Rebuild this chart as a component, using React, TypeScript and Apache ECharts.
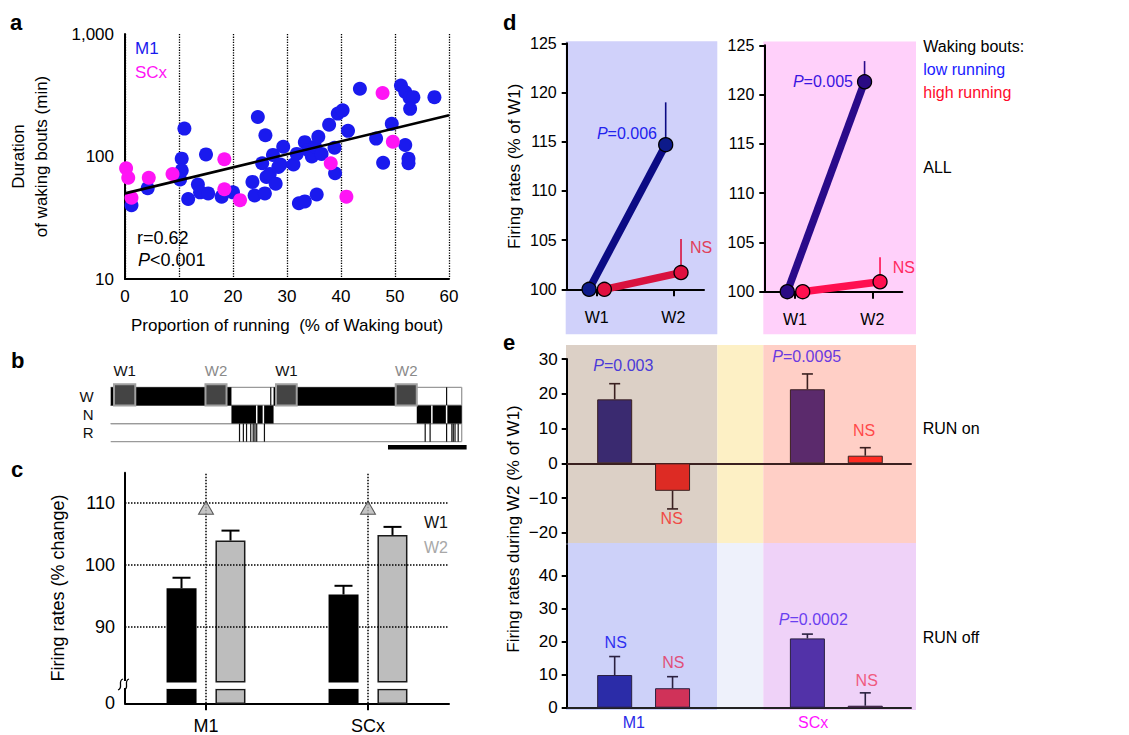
import React, { useEffect, useRef } from 'react';
import * as echarts from 'echarts';

const FONT = '"Liberation Sans", Arial, Helvetica, sans-serif';

// ---------------- Panel a : scatter ----------------
const m1Bouts: number[][] = [
  [1.2, 40], [4.2, 55], [11, 169], [10.5, 96], [10.5, 77], [10.2, 65], [11.7, 45], [13.5, 59],
  [13.9, 51], [15.4, 50], [15, 104], [17.9, 47], [20, 51], [24.6, 210], [26, 149], [23.6, 62],
  [24, 48], [25.9, 50], [25.4, 88], [26.2, 68], [26.8, 72], [27.4, 103], [27.9, 60], [28.4, 82],
  [28.8, 86], [29.3, 120], [31.2, 86], [31.8, 105], [32.2, 41.5], [33.3, 43], [33.3, 131],
  [33.9, 113], [34.6, 100], [35.2, 120], [35.8, 145], [36.4, 105], [35.5, 49], [37.8, 182],
  [38.8, 118], [38.9, 73], [39.4, 224], [40.3, 238], [41.3, 162], [43.5, 357], [46.5, 140],
  [47.8, 89], [49.4, 185], [51.1, 380], [51.9, 336], [52.7, 302], [53.4, 305], [52.8, 245],
  [51.9, 124], [52.5, 96], [52.5, 88], [57.3, 305],
];
const scxBouts: number[][] = [
  [0.2, 80], [0.6, 67], [1.2, 46], [4.4, 67], [8.8, 72], [18.4, 95], [18.4, 54], [21.3, 44],
  [38.1, 88], [41, 47], [47.7, 330], [49.6, 132],
];
const fitLine: number[][] = [[0, 50], [60, 217]];

// ---------------- Panel b : hypnogram ----------------
const stages = ['W', 'N', 'R'];
const wakeBlocks: number[][] = [[0, 34.4], [46.4, 87.2]];
const nremBlocks: number[][] = [[34.4, 46.4], [87.2, 100]];
const wakeLines = [45.6, 95.7];
const nremGaps = [41.6, 43.5, 91.5, 95.7];
const remLines = [36.7, 37.8, 38.7, 39.9, 40.6, 41.1, 41.6, 43.8, 89.6, 91.0, 95.7, 97.2, 97.6, 98.1, 99.0];
const epochs: [string, number, number][] = [['W1', 0.95, 7.0], ['W2', 27.0, 33.0], ['W1', 47.1, 53.0], ['W2', 81.2, 87.2]];
const scaleBar = [79, 101.4];

// ---------------- Panel c : bars with broken axis ----------------
const cCats = ['M1', 'SCx'];
const cW1 = [96.2, 95.2];
const cW1Err = [1.7, 1.4];
const cW2 = [103.9, 104.8];
const cW2Err = [1.6, 1.3];
const cTriangles = [109.2, 109.2];
const cBreak = [80, 81];
const cGuides = [90, 100, 110];
const cYLabels = [77.65, 90, 100, 110];

// ---------------- Panel d : lines ----------------
const dTicks = ['W1', 'W2'];
const dM1Low = [100, 114.7];
const dM1LowErr = [0, 4.3];
const dM1High = [100, 101.7];
const dM1HighErr = [0, 3.4];
const dSCxLow = [100, 121.3];
const dSCxLowErr = [0, 2.1];
const dSCxHigh = [100, 101.0];
const dSCxHighErr = [0, 2.5];

// ---------------- Panel e : bars ----------------
const eSlots = [1, 2, 4.33, 5.33];
const eRunOn = [18.4, -7.9, 21.3, 2.2];
const eRunOnErr = [4.5, 5.2, 4.4, 2.3];
const eRunOff = [9.9, 5.9, 21.0, 0.6];
const eRunOffErr = [5.6, 3.5, 1.3, 3.9];
const eOnTicks = [-20, -10, 0, 10, 20, 30];
const eOffTicks = [0, 10, 20, 30, 40];
const eGroupLabels = [1.33, 4.43];

const eRunOnColors = ['#3a2a70', '#dd2b24', '#5b2a6c', '#ff2b22'];
const eRunOffColors = ['#2b2ca8', '#d03259', '#5232a8', '#b0285a'];

const AXL = { color: '#000', width: 2 };
const lbl = (size: number, margin: number, extra: any = {}) => ({
  fontSize: size, margin, color: '#000', fontFamily: FONT, ...extra,
});

function errSeries(gi: number, data: number[][], color: string, cap: number, width: number, pxOffset = 0, z = 5) {
  return {
    type: 'custom', xAxisIndex: gi, yAxisIndex: gi, z, silent: true, clip: false,
    data, encode: { x: 0, y: 1 },
    renderItem: (_p: any, api: any) => {
      const x = api.value(0), v = api.value(1), e = api.value(2);
      if (!e) return null;
      const a = api.coord([x, v]);
      const b = api.coord([x, v + (v < 0 ? -e : e)]);
      const px = a[0] + pxOffset;
      const children: any[] = [
        { type: 'line', shape: { x1: px, y1: a[1], x2: px, y2: b[1] }, style: { stroke: color, lineWidth: width } },
      ];
      if (cap > 0) children.push({ type: 'line', shape: { x1: px - cap, y1: b[1], x2: px + cap, y2: b[1] }, style: { stroke: color, lineWidth: width } });
      return { type: 'group', children };
    },
  };
}

function dLine(gi: number, vals: number[], off: number, lineColor: string, dotColor: string, z: number) {
  return {
    type: 'line', xAxisIndex: gi, yAxisIndex: gi, z, clip: false,
    data: vals.map((v, i) => [i + 1 + off, v]),
    symbol: 'circle', symbolSize: 14, showSymbol: true,
    lineStyle: { color: lineColor, width: 7.5 },
    itemStyle: { color: dotColor, borderColor: '#000', borderWidth: 1.3 },
  };
}

function rowBand(api: any, row: number) {
  const c = api.coord([0, row]);
  const h = api.size([0, 1])[1];
  return { top: c[1] - h / 2, h };
}

function txt(x: number, y: number, text: string, o: any = {}) {
  const color = o.color || '#000';
  const size = o.size || 16;
  return {
    type: 'text', x, y, z: 100, rotation: o.rotation || 0, silent: true,
    style: {
      text, fill: color, fontSize: size, fontFamily: FONT, fontWeight: o.weight || 'normal',
      align: o.align || 'left', verticalAlign: 'middle',
      rich: { i: { fontStyle: 'italic', fill: color, fontSize: size, fontFamily: FONT } },
    },
  };
}

function bg(x: number, y: number, w: number, h: number, fill: string) {
  return { type: 'rect', z: -5, silent: true, shape: { x, y, width: w, height: h }, style: { fill } };
}

function buildOption(): any {
  const grids = [
    { left: 125, top: 34, width: 324, height: 245 },
    { left: 110.7, top: 387.3, width: 351, height: 54.4 },
    { left: 125, top: 472.7, width: 324, height: 230.6 },
    { left: 566.7, top: 43.3, width: 137.3, height: 246 },
    { left: 764.3, top: 45.3, width: 138, height: 246.4 },
    { left: 566.7, top: 359, width: 344.3, height: 184 },
    { left: 566.7, top: 545, width: 344.3, height: 162.7 },
  ].map((g) => ({ ...g, containLabel: false, outerBoundsMode: 'none', show: false }));

  const dX = (gi: number, min: number, max: number) => ({
    gridIndex: gi, type: 'value', min, max,
    axisLine: { show: true, onZero: false, lineStyle: AXL },
    axisTick: { show: true, customValues: [1, 2], length: 7, lineStyle: AXL },
    axisLabel: { ...lbl(16, 20), customValues: [1, 2], formatter: (v: number) => dTicks[Math.round(v) - 1] },
    splitLine: { show: false },
  });
  const dY = (gi: number, named: boolean) => ({
    gridIndex: gi, type: 'value', min: 100, max: 125, interval: 5,
    axisLine: { show: true, onZero: false, lineStyle: AXL },
    axisTick: { show: true, length: 5, lineStyle: AXL },
    axisLabel: lbl(16, 10),
    splitLine: { show: false },
    ...(named ? {
      name: 'Firing rates (% of W1)', nameLocation: 'middle', nameGap: 44,
      nameTextStyle: { fontSize: 17, color: '#000', fontFamily: FONT },
    } : {}),
  });
  const minus = (v: number) => (v < 0 ? '\u2212' + Math.abs(v) : String(v));

  const xAxis = [
    {
      gridIndex: 0, type: 'value', min: 0, max: 60, interval: 10,
      axisLine: { show: true, onZero: false, lineStyle: AXL },
      axisTick: { show: false },
      axisLabel: lbl(17, 9),
      splitLine: { show: true, lineStyle: { type: 'dotted', color: '#000', width: 1.3 } },
      name: 'Proportion of running  (% of Waking bout)', nameLocation: 'middle', nameGap: 38,
      nameTextStyle: { fontSize: 17, color: '#000', fontFamily: FONT },
    },
    { gridIndex: 1, type: 'value', min: 0, max: 100, show: false },
    {
      gridIndex: 2, type: 'category', data: cCats,
      axisLine: { show: true, onZero: false, lineStyle: AXL },
      axisTick: { show: true, alignWithLabel: true, length: 7, lineStyle: AXL },
      axisLabel: lbl(18, 14),
      splitLine: { show: false },
    },
    dX(3, 0.608, 2.4),
    dX(4, 0.603, 2.388),
    {
      gridIndex: 5, type: 'value', min: 0.171, max: 6.12,
      axisLine: { show: true, onZero: true, lineStyle: { color: '#3a2020', width: 2 } },
      axisTick: { show: false }, axisLabel: { show: false }, splitLine: { show: false },
    },
    {
      gridIndex: 6, type: 'value', min: 0.171, max: 6.12,
      axisLine: { show: true, onZero: false, lineStyle: { color: '#222', width: 2 } },
      axisTick: { show: false }, splitLine: { show: false },
      axisLabel: {
        ...lbl(16, 7), customValues: eGroupLabels,
        formatter: (v: number) => (v < 3 ? '{m|M1}' : '{s|SCx}'),
        rich: {
          m: { color: '#2a2ae8', fontSize: 16, fontFamily: FONT },
          s: { color: '#ff14ff', fontSize: 16, fontFamily: FONT },
        },
      },
    },
  ];

  const yAxis = [
    {
      gridIndex: 0, type: 'log', logBase: 10, min: 10, max: 1000,
      axisLine: { show: true, onZero: false, lineStyle: AXL },
      axisTick: { show: false }, minorTick: { show: false },
      axisLabel: { ...lbl(17, 11), formatter: (v: number) => (v >= 1000 ? '1,000' : String(v)) },
      splitLine: { show: false },
      name: 'Duration\nof waking bouts (min)', nameLocation: 'middle', nameGap: 72,
      nameTextStyle: { fontSize: 17, color: '#000', fontFamily: FONT, lineHeight: 23 },
    },
    {
      gridIndex: 1, type: 'category', data: stages, inverse: true,
      axisLine: { show: false }, axisTick: { show: false },
      axisLabel: lbl(15, 17, { color: '#111', interval: 0 }),
    },
    {
      gridIndex: 2, type: 'value', min: 77.65, max: 114.84,
      axisLine: { show: true, onZero: false, lineStyle: AXL },
      axisTick: { show: false },
      axisLabel: { ...lbl(18, 10), customValues: cYLabels, formatter: (v: number) => (v < cBreak[0] ? '0' : String(v)) },
      splitLine: { show: false },
      name: 'Firing rates (% change)', nameLocation: 'middle', nameGap: 58,
      nameTextStyle: { fontSize: 18, color: '#000', fontFamily: FONT },
    },
    dY(3, true),
    dY(4, false),
    {
      gridIndex: 5, type: 'value', min: -22.9, max: 30,
      axisLine: { show: true, onZero: false, lineStyle: AXL },
      axisTick: { show: true, customValues: eOnTicks, length: 5, lineStyle: AXL },
      axisLabel: { ...lbl(17, 9), customValues: eOnTicks, formatter: minus },
      splitLine: { show: false },
    },
    {
      gridIndex: 6, type: 'value', min: 0, max: 49.3,
      axisLine: { show: true, onZero: false, lineStyle: AXL },
      axisTick: { show: true, customValues: eOffTicks, length: 5, lineStyle: AXL },
      axisLabel: { ...lbl(17, 9), customValues: eOffTicks, formatter: minus },
      splitLine: { show: false },
    },
  ];

  const series: any[] = [];

  // ---- a
  series.push(
    { type: 'scatter', xAxisIndex: 0, yAxisIndex: 0, data: m1Bouts, symbolSize: 14, itemStyle: { color: '#1a1aee', opacity: 1 }, z: 3 },
    { type: 'scatter', xAxisIndex: 0, yAxisIndex: 0, data: scxBouts, symbolSize: 14, itemStyle: { color: '#ff14f5', opacity: 1 }, z: 4 },
    { type: 'line', xAxisIndex: 0, yAxisIndex: 0, data: fitLine, symbol: 'none', lineStyle: { color: '#000', width: 2.6 }, z: 5 },
  );

  // ---- b
  series.push({
    type: 'custom', xAxisIndex: 1, yAxisIndex: 1, z: 2, silent: true, clip: false,
    data: stages.map((_s, i) => [i, 0, 100]), encode: { y: 0, x: [1, 2] },
    renderItem: (_p: any, api: any) => {
      const row = api.value(0);
      const { top, h } = rowBand(api, row);
      const x0 = api.coord([api.value(1), row])[0];
      const x1 = api.coord([api.value(2), row])[0];
      const st = { stroke: '#9a9a9a', lineWidth: 1.3 };
      return {
        type: 'group', children: [
          { type: 'line', shape: { x1: x0, y1: top, x2: x1, y2: top }, style: st },
          { type: 'line', shape: { x1: x0, y1: top + h, x2: x1, y2: top + h }, style: st },
          { type: 'line', shape: { x1: x1, y1: top, x2: x1, y2: top + h }, style: st },
        ],
      };
    },
  });
  series.push({
    type: 'custom', xAxisIndex: 1, yAxisIndex: 1, z: 3, silent: true, clip: false,
    data: [...wakeBlocks.map((b) => [0, b[0], b[1]]), ...nremBlocks.map((b) => [1, b[0], b[1]])],
    encode: { y: 0, x: [1, 2] },
    renderItem: (_p: any, api: any) => {
      const row = api.value(0);
      const { top, h } = rowBand(api, row);
      const x0 = api.coord([api.value(1), row])[0];
      const x1 = api.coord([api.value(2), row])[0];
      return { type: 'rect', shape: { x: x0, y: top, width: x1 - x0, height: h }, style: { fill: '#000' } };
    },
  });
  series.push({
    type: 'custom', xAxisIndex: 1, yAxisIndex: 1, z: 4, silent: true, clip: false,
    data: [...wakeLines.map((t) => [0, t, 0]), ...nremGaps.map((t) => [1, t, 1]), ...remLines.map((t) => [2, t, 0])],
    encode: { y: 0, x: 1 },
    renderItem: (_p: any, api: any) => {
      const row = api.value(0);
      const { top, h } = rowBand(api, row);
      const x = api.coord([api.value(1), row])[0];
      const white = api.value(2) === 1;
      return {
        type: 'line', shape: { x1: x, y1: top, x2: x, y2: top + h },
        style: { stroke: white ? '#fff' : '#111', lineWidth: white ? 1.5 : 1.2 },
      };
    },
  });
  series.push({
    type: 'custom', xAxisIndex: 1, yAxisIndex: 1, z: 5, silent: true, clip: false,
    data: epochs.map((e) => [e[1], e[2], 0]), encode: { x: [0, 1], y: 2 },
    renderItem: (p: any, api: any) => {
      const { top, h } = rowBand(api, 0);
      const x0 = api.coord([api.value(0), 0])[0];
      const x1 = api.coord([api.value(1), 0])[0];
      const label = epochs[p.dataIndex][0];
      return {
        type: 'group', children: [
          { type: 'rect', shape: { x: x0, y: top - 3, width: x1 - x0, height: h + 3 }, style: { fill: '#444', stroke: '#a0a0a0', lineWidth: 2 } },
          {
            type: 'text', x: (x0 + x1) / 2, y: top - 17,
            style: { text: label, fill: label === 'W1' ? '#111' : '#8a8a8a', fontSize: 15, fontFamily: FONT, align: 'center', verticalAlign: 'middle' },
          },
        ],
      };
    },
  });
  series.push({
    type: 'custom', xAxisIndex: 1, yAxisIndex: 1, z: 5, silent: true, clip: false,
    data: [[scaleBar[0], scaleBar[1], 2]], encode: { x: [0, 1], y: 2 },
    renderItem: (_p: any, api: any) => {
      const { top, h } = rowBand(api, 2);
      const x0 = api.coord([api.value(0), 2])[0];
      const x1 = api.coord([api.value(1), 2])[0];
      const y = top + h + 5.5;
      return { type: 'line', shape: { x1: x0, y1: y, x2: x1, y2: y }, style: { stroke: '#000', lineWidth: 4.5 } };
    },
  });

  // ---- c
  series.push({
    type: 'scatter', xAxisIndex: 2, yAxisIndex: 2, data: [], z: 1, silent: true,
    markLine: {
      silent: true, symbol: ['none', 'none'], label: { show: false }, animation: false,
      lineStyle: { type: 'dotted', color: '#000', width: 1.5 },
      data: [...cGuides.map((v) => ({ yAxis: v })), ...cCats.map((c) => ({ xAxis: c }))],
    },
  });
  const cBar = (stack: string, vals: number[], color: string, border: boolean) => {
    const base = { type: 'bar', xAxisIndex: 2, yAxisIndex: 2, stack, barWidth: 30, barGap: '63%', z: 3, silent: true };
    const st = border ? { borderColor: '#1a1a1a', borderWidth: 1.5 } : {};
    return [
      { ...base, data: vals.map(() => cBreak[0]), itemStyle: { color, ...st } },
      { ...base, data: vals.map(() => cBreak[1] - cBreak[0]), itemStyle: { color: '#fff' } },
      { ...base, data: vals.map((v) => v - cBreak[1]), itemStyle: { color, ...st } },
    ];
  };
  series.push(...cBar('w1', cW1, '#000', false), ...cBar('w2', cW2, '#bdbdbd', true));
  series.push({
    type: 'scatter', xAxisIndex: 2, yAxisIndex: 2, data: cTriangles, z: 6, silent: true,
    symbol: 'triangle', symbolSize: [15, 13], itemStyle: { color: '#b5b5b5', borderColor: '#333', borderWidth: 1 },
  });
  series.push(errSeries(2, cW1.map((v, i) => [i, v, cW1Err[i]]), '#000', 9, 2, -24.5));
  series.push(errSeries(2, cW2.map((v, i) => [i, v, cW2Err[i]]), '#000', 9, 2, 24.5));

  // ---- d
  series.push(
    errSeries(3, dM1Low.map((v, i) => [i + 1 - 0.1, v, dM1LowErr[i]]), '#0b0b84', 0, 1.6, 0, 2),
    errSeries(3, dM1High.map((v, i) => [i + 1 + 0.1, v, dM1HighErr[i]]), '#d9123e', 0, 1.6, 0, 2),
    dLine(3, dM1Low, -0.1, '#0b0b84', '#0d1a8a', 3),
    dLine(3, dM1High, 0.1, '#d9123e', '#e0103f', 4),
    errSeries(4, dSCxLow.map((v, i) => [i + 1 - 0.1, v, dSCxLowErr[i]]), '#2a0a8a', 0, 1.6, 0, 2),
    errSeries(4, dSCxHigh.map((v, i) => [i + 1 + 0.1, v, dSCxHighErr[i]]), '#ff1050', 0, 1.6, 0, 2),
    dLine(4, dSCxLow, -0.1, '#2a0a8a', '#2a0a84', 3),
    dLine(4, dSCxHigh, 0.1, '#ff1050', '#ff1050', 4),
  );

  // ---- e
  const eBars = (gi: number, vals: number[], colors: string[], border: string) => ({
    type: 'bar', xAxisIndex: gi, yAxisIndex: gi, z: 3, silent: true, barWidth: 35,
    data: eSlots.map((x, i) => ({ value: [x, vals[i]], itemStyle: { color: colors[i] } })),
    itemStyle: { borderColor: border, borderWidth: 1 },
  });
  series.push(
    eBars(5, eRunOn, eRunOnColors, '#3a2020'),
    errSeries(5, eSlots.map((x, i) => [x, eRunOn[i], eRunOnErr[i]]), '#3a2020', 5.5, 1.6),
    eBars(6, eRunOff, eRunOffColors, '#2a2040'),
    errSeries(6, eSlots.map((x, i) => [x, eRunOff[i], eRunOffErr[i]]), '#2a2040', 5.5, 1.6),
  );

  const graphic: any[] = [
    // backgrounds
    bg(565.7, 41.3, 151.6, 293, '#d0d1fa'),
    bg(763.3, 41.5, 152.7, 292.7, '#ffd0fa'),
    bg(566, 345, 151.3, 198, '#dcd0c6'),
    bg(717.3, 345, 46, 198, '#fdf0c5'),
    bg(763.3, 345, 152.7, 198, '#ffcfc6'),
    bg(566, 543, 151.3, 167, '#cdd1f9'),
    bg(717.3, 543, 46, 167, '#eef1fb'),
    bg(763.3, 543, 152.7, 167, '#efd2f8'),
    // panel letters
    txt(10, 22.4, 'a', { size: 22, weight: 'bold' }),
    txt(11, 360.4, 'b', { size: 22, weight: 'bold' }),
    txt(11, 469, 'c', { size: 22, weight: 'bold' }),
    txt(503, 22.4, 'd', { size: 22, weight: 'bold' }),
    txt(503, 342.4, 'e', { size: 22, weight: 'bold' }),
    // a
    txt(135, 48, 'M1', { color: '#1a1aee', size: 17 }),
    txt(135, 72, 'SCx', { color: '#ff14f5', size: 17 }),
    txt(137, 238, 'r=0.62', { size: 18 }),
    txt(138, 259.5, '{i|P}<0.001', { size: 18 }),
    // c legend
    txt(448, 522, 'W1', { align: 'right', size: 16, color: '#111' }),
    txt(448, 547, 'W2', { align: 'right', size: 16, color: '#a8a8a8' }),
    // d
    txt(657, 133, '{i|P}=0.006', { align: 'right', color: '#2222ee' }),
    txt(690, 247.7, 'NS', { color: '#e0405a' }),
    txt(853, 81, '{i|P}=0.005', { align: 'right', color: '#3a14e0' }),
    txt(892.7, 267.7, 'NS', { color: '#ff2a60' }),
    txt(923.3, 46.7, 'Waking bouts:'),
    txt(923.3, 69.3, 'low running', { color: '#1a1aff' }),
    txt(923.3, 92.3, 'high running', { color: '#ff0a2a' }),
    txt(923.3, 167.3, 'ALL'),
    // e
    txt(623.3, 365, '{i|P}=0.003', { align: 'center', color: '#4a3ad8' }),
    txt(671.7, 518.3, 'NS', { align: 'center', color: '#f04a44' }),
    txt(806.7, 356.7, '{i|P}=0.0095', { align: 'center', color: '#6a3ae0' }),
    txt(864, 430.7, 'NS', { align: 'center', color: '#ff4a4a' }),
    txt(922.7, 428.3, 'RUN on'),
    txt(615.7, 642.7, 'NS', { align: 'center', color: '#3030f0' }),
    txt(673.3, 662.7, 'NS', { align: 'center', color: '#e0507a' }),
    txt(813.3, 619.3, '{i|P}=0.0002', { align: 'center', color: '#6a40f0' }),
    txt(866.7, 680, 'NS', { align: 'center', color: '#f05a80' }),
    txt(922.7, 637.3, 'RUN off'),
    txt(513, 529, 'Firing rates during W2 (% of W1)', { align: 'center', size: 17, rotation: Math.PI / 2 }),
    // c broken-axis mark
    { type: 'rect', z: 50, silent: true, shape: { x: 118, y: 681, width: 14, height: 7 }, style: { fill: '#fff' } },
    { type: 'bezierCurve', z: 51, silent: true, shape: { x1: 118, y1: 690, cpx1: 124, cpy1: 688, cpx2: 117, cpy2: 681, x2: 123, y2: 679 }, style: { stroke: '#000', lineWidth: 1.3, fill: 'none' } },
    { type: 'bezierCurve', z: 51, silent: true, shape: { x1: 124, y1: 690, cpx1: 130, cpy1: 688, cpx2: 123, cpy2: 681, x2: 129, y2: 679 }, style: { stroke: '#000', lineWidth: 1.3, fill: 'none' } },
  ];

  return {
    animation: false,
    backgroundColor: '#fff',
    textStyle: { fontFamily: FONT },
    grid: grids,
    xAxis,
    yAxis,
    series,
    graphic,
  };
}

export default function App() {
  const ref = useRef<HTMLDivElement>(null);
  useEffect(() => {
    document.body.style.margin = '0';
    const chart = echarts.init(ref.current as HTMLDivElement, null, { renderer: 'svg' });
    chart.setOption(buildOption());
    return () => chart.dispose();
  }, []);
  return (
    <div
      ref={ref}
      style={{ position: 'absolute', left: 0, top: 0, width: 1129, height: 735, background: '#fff' }}
    />
  );
}
